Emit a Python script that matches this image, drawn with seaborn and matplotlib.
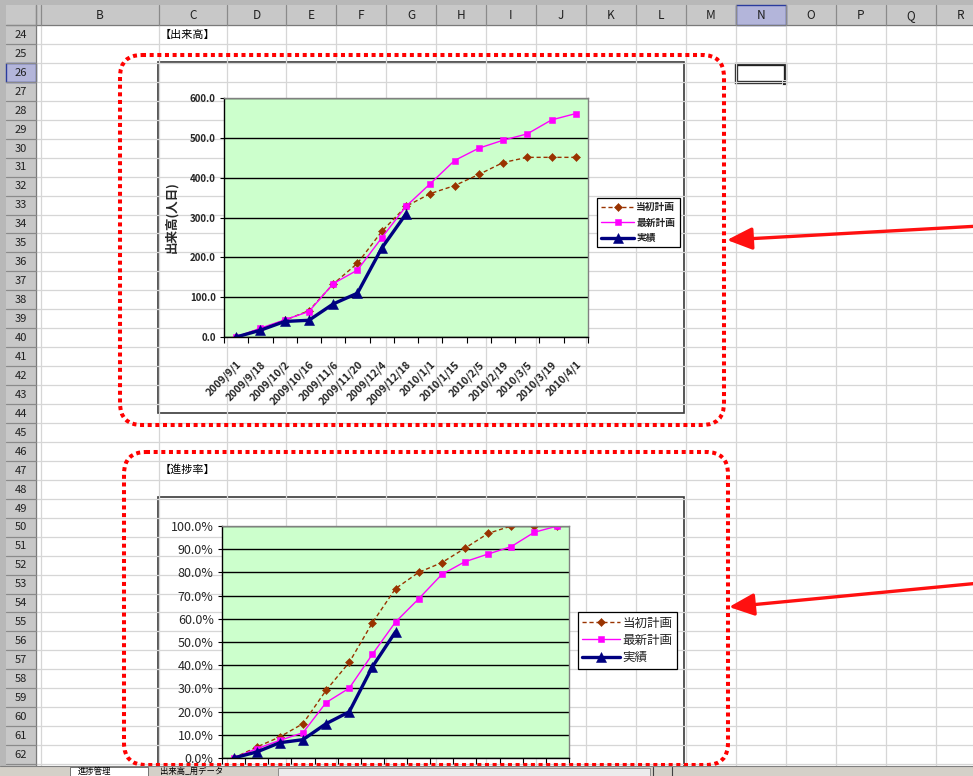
import numpy as np
import matplotlib
matplotlib.use('Agg')
import matplotlib.pyplot as plt
import seaborn as sns
from matplotlib.patches import Rectangle, FancyBboxPatch

#%% データ

dates = ['2009/9/1', '2009/9/18', '2009/10/2', '2009/10/16', '2009/11/6',
         '2009/11/20', '2009/12/4', '2009/12/18', '2010/1/1', '2010/1/15',
         '2010/2/5', '2010/2/19', '2010/3/5', '2010/3/19', '2010/4/1']
series_names = ['当初計画', '最新計画', '実績']

# 出来高（人日）
plan_first = [0, 21, 42, 66, 133, 185, 265, 328, 360, 380, 408, 438, 451, 451, 451]
plan_latest = [0, 22, 43, 64, 134, 168, 249, 328, 385, 443, 474, 494, 510, 545, 561]
actual = [0, 17, 39, 42, 83, 110, 223, 309]

# 進捗率（%）
rate_first = [0, 4.7, 9.1, 14.8, 29.2, 41.2, 58.3, 73.0, 80.0, 84.2, 90.4, 96.8, 100, 100, 100]
rate_latest = [0, 4.0, 7.6, 10.9, 23.9, 30.1, 44.7, 58.6, 68.6, 79.1, 84.6, 87.9, 91.1, 97.3, 100]
rate_actual = [0, 2.6, 6.6, 7.9, 14.8, 19.9, 39.3, 54.4]

y1_ticks = [0, 100, 200, 300, 400, 500, 600]
y2_ticks = [0, 10, 20, 30, 40, 50, 60, 70, 80, 90, 100]

col_names = list('ABCDEFGHIJKLMNOPQR')
rows = list(range(24, 64))
sheet_tabs = ['進捗管理', '出来高_用データ']

#%% 設定

sns.set_style('white')
plt.rcParams['font.family'] = ['Noto Sans CJK JP', 'DejaVu Sans']

W, H = 973, 776
fig = plt.figure(figsize=(W / 100, H / 100), dpi=100)


def px_axes(x0, y0, x1, y1):
    return fig.add_axes([x0 / W, 1 - y1 / H, (x1 - x0) / W, (y1 - y0) / H])


def row_top(r):
    return 25 + (r - 24) * 18.95


col_edges = [36, 41, 159, 227, 286, 336, 386, 436, 486, 536, 586, 636, 686,
             736, 786, 836, 886, 936, 986]

#%% シート背景

bg = fig.add_axes([0, 0, 1, 1])
bg.set_xlim(0, W)
bg.set_ylim(H, 0)
bg.axis('off')

for x in col_edges:
    bg.plot([x, x], [25, 766], color='#D6D6D6', lw=0.9)
for r in rows:
    y = row_top(r)
    bg.plot([36, W], [y, y], color='#D6D6D6', lw=0.9)

bg.add_patch(Rectangle((0, 0), W, 5, fc='#B8B8B8', ec='none'))
bg.add_patch(Rectangle((0, 0), 6, H, fc='#B8B8B8', ec='none'))
bg.add_patch(Rectangle((6, 5), W, 20, fc='#C8C8C8', ec='none'))
bg.add_patch(Rectangle((6, 25), 30, 742, fc='#C8C8C8', ec='none'))
bg.plot([6, W], [25, 25], color='#7A7A7A', lw=0.9)
bg.plot([36, 36], [5, 767], color='#7A7A7A', lw=0.9)

# 選択セル N26 の見出し
bg.add_patch(Rectangle((736, 5), 50, 20, fc='#B3B5DA', ec='#2B3C9E', lw=1))
bg.add_patch(Rectangle((6, row_top(26)), 30, 19, fc='#B3B5DA', ec='#2B3C9E', lw=1))

for x in col_edges[:-1]:
    bg.plot([x, x], [5, 25], color='#8A8A8A', lw=0.9)
for i, name in enumerate(col_names):
    xc = (col_edges[i] + col_edges[i + 1]) / 2
    if name != 'A':
        bg.text(xc, 15.5, name, ha='center', va='center', fontsize=8.5, color='#202020')
for r in rows:
    y = row_top(r)
    bg.plot([6, 36], [y, y], color='#8A8A8A', lw=0.9)
    if r < 63:
        bg.text(21, y + 9.8, str(r), ha='center', va='center', fontsize=8, color='#202020')

bg.add_patch(Rectangle((736, 63.5), 49, 18.5, fc='none', ec='#202020', lw=2.4))
bg.add_patch(Rectangle((781.5, 79.5), 5, 5, fc='#202020', ec='white', lw=0.6))

bg.text(160, 34.5, '【出来高】', ha='left', va='center', fontsize=8, color='black')
bg.text(160, 470, '【進捗率】', ha='left', va='center', fontsize=8, color='black')

# グラフ枠
bg.add_patch(Rectangle((158, 62), 526, 351, fc='white', ec='#3A3A3A', lw=1.2))
bg.add_patch(Rectangle((158, 497), 526, 300, fc='white', ec='#3A3A3A', lw=1.2))

#%% グラフ

x = np.arange(len(dates))
styles = [
    dict(color='#993300', lw=1, linestyle=(0, (3, 2)), marker='D'),
    dict(color='#FF00FF', lw=1, linestyle='-', marker='s'),
    dict(color='#000080', lw=2.4, linestyle='-', marker='^'),
]
msizes = [3.6, 4.2, 6.5]


def draw_chart(ax, values, yticks, ylabels, tick_fs, bold):
    ax.set_zorder(2)
    ax.set_facecolor('#CCFFCC')
    for vals, name, st, ms in zip(values, series_names, styles, msizes):
        sns.lineplot(x=x[:len(vals)], y=vals, ax=ax, label=name, markersize=ms,
                     markeredgewidth=0.4, markeredgecolor=st['color'], **st)
    ax.set_xlim(-0.5, len(dates) - 0.5)
    ax.set_ylim(yticks[0], yticks[-1])
    ax.set_yticks(yticks)
    ax.set_yticklabels(ylabels, fontsize=tick_fs,
                       fontweight='bold' if bold else 'normal')
    ax.yaxis.grid(True, color='black', lw=1)
    ax.xaxis.grid(False)
    ax.set_axisbelow(True)
    ax.set_xticks(np.arange(len(dates) + 1) - 0.5)
    ax.set_xticklabels([])
    ax.tick_params(axis='x', which='major', length=4, width=0.8, color='black',
                   direction='out', bottom=True)
    ax.tick_params(axis='y', length=3, width=0.8, color='black', direction='out',
                   left=True, pad=3)
    for side in ['left', 'bottom']:
        ax.spines[side].set_color('black')
        ax.spines[side].set_linewidth(1)
    for side in ['top', 'right']:
        ax.spines[side].set_color('#808080')
        ax.spines[side].set_linewidth(1)
    ax.set_xlabel('')


# 出来高
ax1 = px_axes(224, 98, 588, 337)
draw_chart(ax1, [plan_first, plan_latest, actual], y1_ticks,
           ['%.1f' % v for v in y1_ticks], 7, True)
ax1.set_xticks(x, minor=True)
ax1.set_xticklabels(dates, minor=True, rotation=45, ha='right',
                    rotation_mode='anchor', fontsize=7.5, fontweight='bold')
ax1.tick_params(axis='x', which='minor', length=0, pad=16)
ax1.set_ylabel('出来高(人日)', fontsize=9, fontweight='bold')
ax1.yaxis.set_label_coords(-0.125, 0.5)
leg1 = ax1.legend(loc='upper left', bbox_to_anchor=(597 / W, 1 - 198 / H),
                  bbox_transform=fig.transFigure, borderaxespad=0, frameon=True,
                  fancybox=False, edgecolor='black', framealpha=1,
                  prop={'size': 7, 'weight': 'bold'}, handlelength=3.4,
                  handletextpad=0.2, borderpad=0.45, labelspacing=0.55)
leg1.get_frame().set_linewidth(0.9)

# 進捗率
ax2 = px_axes(222, 526, 569, 758)
draw_chart(ax2, [rate_first, rate_latest, rate_actual], y2_ticks,
           ['%.1f%%' % v for v in y2_ticks], 9, False)
leg2 = ax2.legend(loc='upper left', bbox_to_anchor=(578 / W, 1 - 612 / H),
                  bbox_transform=fig.transFigure, borderaxespad=0, frameon=True,
                  fancybox=False, edgecolor='black', framealpha=1,
                  prop={'size': 9}, handlelength=3.0, handletextpad=0.2,
                  borderpad=0.35, labelspacing=0.35)
leg2.get_frame().set_linewidth(0.9)

#%% 注記（赤枠・矢印）とシートタブ

ov = fig.add_axes([0, 0, 1, 1])
ov.set_xlim(0, W)
ov.set_ylim(H, 0)
ov.axis('off')
ov.patch.set_alpha(0)
ov.set_zorder(10)

for (x0, y0, x1, y1) in [(120, 55, 724, 425), (124, 452, 728, 765)]:
    ov.add_patch(FancyBboxPatch((x0, y0), x1 - x0, y1 - y0,
                                boxstyle='round,pad=0,rounding_size=22',
                                fc='none', ec='#FF0000', lw=2.9,
                                ls=(0, (1, 0.9))))
for tip, tail in [((727, 240), (980, 226)), ((729, 607), (980, 583))]:
    ov.annotate('', xy=tip, xytext=tail,
                arrowprops=dict(arrowstyle='-|>,head_length=0.9,head_width=0.4',
                                color='#FF1010', lw=2.4, shrinkA=0, shrinkB=0,
                                mutation_scale=17))

ov.add_patch(Rectangle((0, 766), W, 12, fc='#D4D0C8', ec='none'))
ov.plot([0, W], [766, 766], color='#808080', lw=0.8)
ov.add_patch(Rectangle((278, 768), 372, 10, fc='#ECECEC', ec='#808080', lw=0.6))
ov.plot([653, 653], [767, 776], color='#404040', lw=0.8)
ov.plot([672, 672], [767, 776], color='#404040', lw=0.8)
ov.add_patch(Rectangle((70, 767), 78, 10, fc='white', ec='#606060', lw=0.6))
ov.text(78, 771, sheet_tabs[0], ha='left', va='center', fontsize=6, color='black')
ov.text(160, 771, sheet_tabs[1], ha='left', va='center', fontsize=6, color='black')

fig.savefig('out.png', dpi=100)
